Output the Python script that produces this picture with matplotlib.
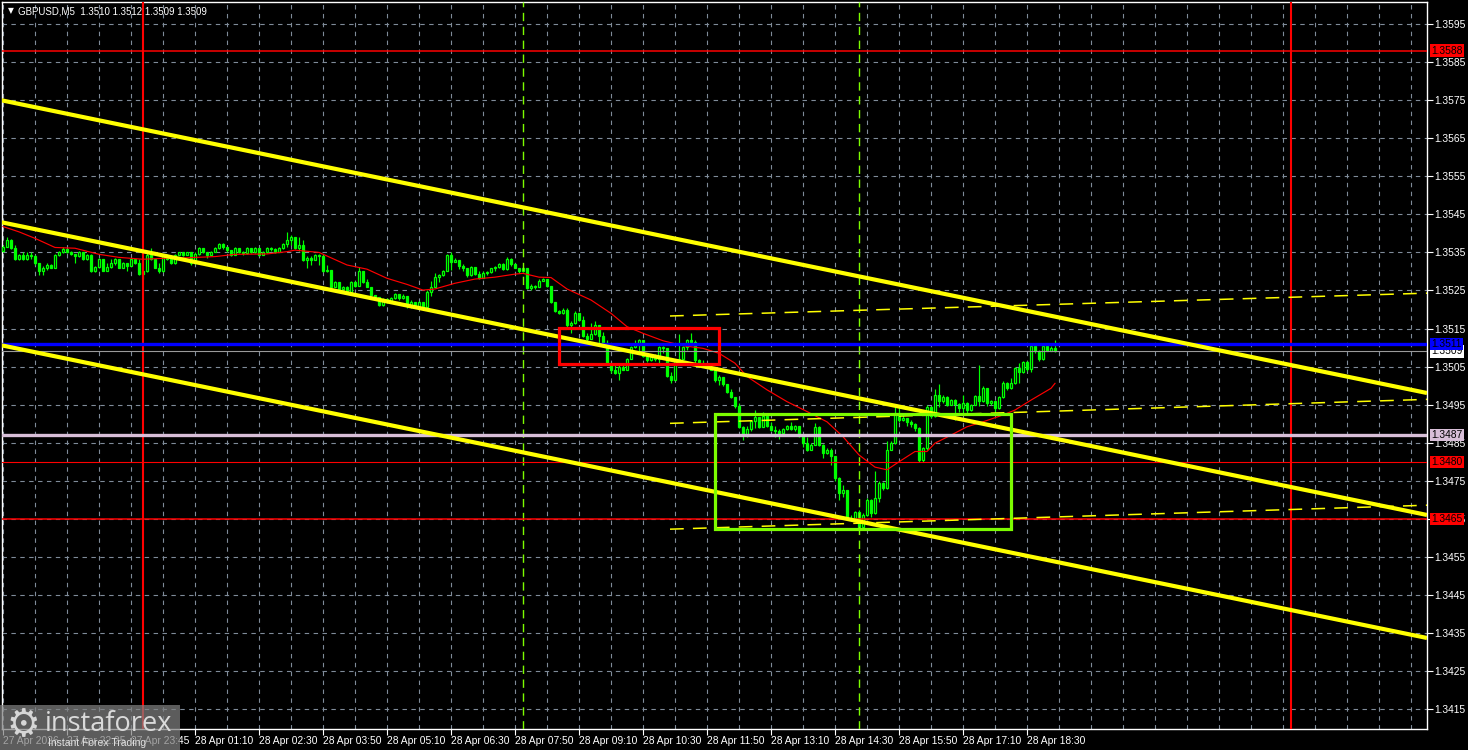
import matplotlib
matplotlib.use("Agg")
import matplotlib.pyplot as plt
import numpy as np
from matplotlib.patches import Rectangle

# ---------------- data ----------------
symbol = "GBPUSD,M5"
first_open = 1.35353

closes = [
    1.35365, 1.35383, 1.35361, 1.35332, 1.35343, 1.35332, 1.35343, 1.35340, 1.35321, 1.35300,
    1.35308, 1.35318, 1.35310, 1.35343, 1.35350, 1.35358, 1.35352, 1.35345, 1.35340, 1.35350,
    1.35332, 1.35343, 1.35300, 1.35312, 1.35332, 1.35302, 1.35311, 1.35321, 1.35332, 1.35310,
    1.35321, 1.35315, 1.35332, 1.35321, 1.35293, 1.35300, 1.35343, 1.35332, 1.35310, 1.35300,
    1.35343, 1.35333, 1.35321, 1.35343, 1.35350, 1.35343, 1.35350, 1.35321, 1.35345, 1.35361,
    1.35350, 1.35343, 1.35350, 1.35361, 1.35372, 1.35363, 1.35356, 1.35343, 1.35361, 1.35350,
    1.35348, 1.35361, 1.35350, 1.35361, 1.35343, 1.35350, 1.35361, 1.35360, 1.35350, 1.35361,
    1.35372, 1.35383, 1.35391, 1.35361, 1.35370, 1.35330, 1.35335, 1.35330, 1.35343, 1.35340,
    1.35300, 1.35305, 1.35260, 1.35272, 1.35253, 1.35260, 1.35247, 1.35273, 1.35262, 1.35300,
    1.35273, 1.35260, 1.35238, 1.35232, 1.35212, 1.35228, 1.35220, 1.35230, 1.35240, 1.35230,
    1.35235, 1.35208, 1.35220, 1.35209, 1.35219, 1.35206, 1.35245, 1.35260, 1.35285, 1.35290,
    1.35302, 1.35343, 1.35326, 1.35330, 1.35315, 1.35310, 1.35290, 1.35312, 1.35292, 1.35283,
    1.35295, 1.35298, 1.35308, 1.35312, 1.35320, 1.35306, 1.35334, 1.35320, 1.35310, 1.35302,
    1.35308, 1.35256, 1.35263, 1.35260, 1.35276, 1.35280, 1.35262, 1.35221, 1.35196, 1.35190,
    1.35200, 1.35159, 1.35165, 1.35190, 1.35173, 1.35130, 1.35122, 1.35135, 1.35160, 1.35130,
    1.35111, 1.35059, 1.35042, 1.35033, 1.35050, 1.35042, 1.35070, 1.35102, 1.35108, 1.35120,
    1.35078, 1.35067, 1.35076, 1.35069, 1.35102, 1.35098, 1.35025, 1.35015, 1.35065, 1.35070,
    1.35102, 1.35120, 1.35115, 1.35067, 1.35060, 1.35055, 1.35050, 1.35042, 1.35015, 1.35023,
    1.35005, 1.34983, 1.34970, 1.34946, 1.34892, 1.34870, 1.34885, 1.34906, 1.34918, 1.34892,
    1.34920, 1.34895, 1.34883, 1.34880, 1.34875, 1.34887, 1.34894, 1.34885, 1.34893, 1.34868,
    1.34850, 1.34831, 1.34845, 1.34892, 1.34845, 1.34822, 1.34831, 1.34816, 1.34757, 1.34717,
    1.34726, 1.34652, 1.34650, 1.34668, 1.34628, 1.34660, 1.34700, 1.34665, 1.34705, 1.34743,
    1.34730, 1.34831, 1.34849, 1.34927, 1.34910, 1.34915, 1.34904, 1.34900, 1.34890, 1.34805,
    1.34835, 1.34945, 1.34920, 1.34976, 1.34960, 1.34970, 1.34950, 1.34962, 1.34953, 1.34941,
    1.34955, 1.34935, 1.34950, 1.34973, 1.34960, 1.34995, 1.34955, 1.34960, 1.34940, 1.34970,
    1.35008, 1.34995, 1.35006, 1.35046, 1.35035, 1.35063, 1.35044, 1.35103, 1.35091, 1.35069,
    1.35103, 1.35092, 1.35100, 1.35090,
]

highs = [
    1.35370, 1.35391, 1.35385, 1.35370, 1.35346, 1.35350, 1.35350, 1.35350, 1.35343, 1.35323,
    1.35315, 1.35321, 1.35320, 1.35345, 1.35355, 1.35365, 1.35360, 1.35354, 1.35346, 1.35353,
    1.35352, 1.35346, 1.35345, 1.35315, 1.35335, 1.35333, 1.35321, 1.35332, 1.35335, 1.35333,
    1.35324, 1.35321, 1.35335, 1.35333, 1.35332, 1.35305, 1.35350, 1.35361, 1.35333, 1.35321,
    1.35345, 1.35345, 1.35343, 1.35345, 1.35352, 1.35352, 1.35352, 1.35350, 1.35350, 1.35365,
    1.35362, 1.35352, 1.35353, 1.35364, 1.35375, 1.35374, 1.35365, 1.35357, 1.35364, 1.35362,
    1.35353, 1.35364, 1.35362, 1.35363, 1.35362, 1.35353, 1.35364, 1.35363, 1.35362, 1.35364,
    1.35375, 1.35404, 1.35395, 1.35390, 1.35391, 1.35383, 1.35340, 1.35340, 1.35346, 1.35345,
    1.35343, 1.35317, 1.35303, 1.35275, 1.35272, 1.35263, 1.35262, 1.35276, 1.35274, 1.35312,
    1.35302, 1.35280, 1.35260, 1.35238, 1.35233, 1.35230, 1.35230, 1.35233, 1.35243, 1.35240,
    1.35240, 1.35236, 1.35224, 1.35221, 1.35222, 1.35220, 1.35250, 1.35275, 1.35295, 1.35293,
    1.35305, 1.35345, 1.35352, 1.35335, 1.35328, 1.35320, 1.35310, 1.35315, 1.35313, 1.35300,
    1.35300, 1.35302, 1.35310, 1.35315, 1.35323, 1.35321, 1.35338, 1.35335, 1.35322, 1.35310,
    1.35313, 1.35308, 1.35266, 1.35265, 1.35280, 1.35283, 1.35280, 1.35262, 1.35215, 1.35200,
    1.35205, 1.35205, 1.35170, 1.35195, 1.35192, 1.35183, 1.35138, 1.35165, 1.35170, 1.35143,
    1.35142, 1.35120, 1.35055, 1.35055, 1.35053, 1.35060, 1.35073, 1.35105, 1.35120, 1.35123,
    1.35120, 1.35079, 1.35080, 1.35083, 1.35105, 1.35103, 1.35098, 1.35035, 1.35070, 1.35135,
    1.35105, 1.35123, 1.35138, 1.35120, 1.35070, 1.35067, 1.35060, 1.35052, 1.35033, 1.35027,
    1.35024, 1.35000, 1.34990, 1.34960, 1.34954, 1.34895, 1.34893, 1.34910, 1.34936, 1.34918,
    1.34930, 1.34920, 1.34905, 1.34895, 1.34885, 1.34890, 1.34897, 1.34904, 1.34896, 1.34890,
    1.34870, 1.34865, 1.34849, 1.34902, 1.34893, 1.34846, 1.34835, 1.34836, 1.34815, 1.34760,
    1.34740, 1.34720, 1.34660, 1.34672, 1.34673, 1.34665, 1.34705, 1.34702, 1.34775, 1.34750,
    1.34746, 1.34855, 1.34855, 1.34945, 1.34943, 1.34925, 1.34916, 1.34910, 1.34902, 1.34891,
    1.34840, 1.34950, 1.34946, 1.34990, 1.35004, 1.34975, 1.34972, 1.34965, 1.34965, 1.34955,
    1.34976, 1.34956, 1.34953, 1.34976, 1.35054, 1.34998, 1.34995, 1.34963, 1.34960, 1.34973,
    1.35011, 1.35009, 1.35020, 1.35050, 1.35060, 1.35066, 1.35064, 1.35105, 1.35104, 1.35093,
    1.35105, 1.35104, 1.35105, 1.35120,
]

lows = [
    1.35350, 1.35363, 1.35358, 1.35330, 1.35330, 1.35330, 1.35330, 1.35332, 1.35318, 1.35291,
    1.35290, 1.35305, 1.35308, 1.35308, 1.35340, 1.35348, 1.35348, 1.35342, 1.35321, 1.35338,
    1.35330, 1.35330, 1.35298, 1.35298, 1.35308, 1.35300, 1.35308, 1.35309, 1.35318, 1.35308,
    1.35308, 1.35300, 1.35314, 1.35319, 1.35290, 1.35280, 1.35298, 1.35329, 1.35308, 1.35295,
    1.35299, 1.35330, 1.35319, 1.35320, 1.35342, 1.35340, 1.35342, 1.35318, 1.35320, 1.35343,
    1.35348, 1.35335, 1.35342, 1.35350, 1.35360, 1.35360, 1.35350, 1.35340, 1.35342, 1.35348,
    1.35342, 1.35347, 1.35348, 1.35349, 1.35340, 1.35342, 1.35349, 1.35355, 1.35348, 1.35350,
    1.35360, 1.35365, 1.35370, 1.35358, 1.35355, 1.35328, 1.35310, 1.35318, 1.35330, 1.35318,
    1.35298, 1.35298, 1.35258, 1.35260, 1.35250, 1.35250, 1.35245, 1.35246, 1.35260, 1.35261,
    1.35270, 1.35258, 1.35235, 1.35229, 1.35210, 1.35210, 1.35218, 1.35218, 1.35228, 1.35225,
    1.35228, 1.35205, 1.35205, 1.35205, 1.35208, 1.35202, 1.35203, 1.35235, 1.35258, 1.35272,
    1.35288, 1.35300, 1.35305, 1.35325, 1.35306, 1.35300, 1.35285, 1.35288, 1.35290, 1.35280,
    1.35282, 1.35290, 1.35297, 1.35300, 1.35308, 1.35303, 1.35305, 1.35315, 1.35308, 1.35297,
    1.35298, 1.35253, 1.35250, 1.35253, 1.35258, 1.35275, 1.35260, 1.35218, 1.35193, 1.35188,
    1.35188, 1.35155, 1.35138, 1.35163, 1.35170, 1.35128, 1.35118, 1.35125, 1.35133, 1.35111,
    1.35108, 1.35056, 1.35033, 1.35030, 1.35015, 1.35040, 1.35040, 1.35070, 1.35100, 1.35085,
    1.35075, 1.35063, 1.35065, 1.35065, 1.35055, 1.35085, 1.35022, 1.35006, 1.35014, 1.35065,
    1.35070, 1.35094, 1.35110, 1.35060, 1.35059, 1.35055, 1.35049, 1.35040, 1.35010, 1.35002,
    1.34998, 1.34980, 1.34968, 1.34942, 1.34890, 1.34858, 1.34865, 1.34880, 1.34890, 1.34890,
    1.34895, 1.34892, 1.34880, 1.34866, 1.34860, 1.34868, 1.34883, 1.34883, 1.34880, 1.34865,
    1.34840, 1.34828, 1.34830, 1.34843, 1.34842, 1.34810, 1.34820, 1.34791, 1.34750, 1.34700,
    1.34708, 1.34648, 1.34645, 1.34649, 1.34623, 1.34620, 1.34658, 1.34656, 1.34662, 1.34695,
    1.34725, 1.34728, 1.34830, 1.34848, 1.34905, 1.34908, 1.34895, 1.34892, 1.34880, 1.34800,
    1.34800, 1.34832, 1.34915, 1.34918, 1.34945, 1.34955, 1.34947, 1.34948, 1.34910, 1.34930,
    1.34927, 1.34925, 1.34933, 1.34948, 1.34946, 1.34958, 1.34946, 1.34950, 1.34924, 1.34938,
    1.34968, 1.34989, 1.34992, 1.35004, 1.35008, 1.35034, 1.35039, 1.35036, 1.35086, 1.35066,
    1.35067, 1.35090, 1.35090, 1.35089,
]

# moving average (red thin line), read at sample bars
ma_bars = [0, 4, 8, 13, 18, 24, 29, 35, 41, 46, 53, 58, 66, 71, 73, 79, 86, 91, 96, 101,
           105, 108, 113, 118, 123, 128, 130, 134, 137, 141, 147, 152, 156, 160, 165, 170, 175, 179, 183, 186,
           191, 196, 201, 206, 210, 214, 218, 221, 224, 228, 231, 233, 237, 241, 245, 250, 253, 257, 262, 263]
ma_vals = [1.35418, 1.35404, 1.35387, 1.35363, 1.35361, 1.35345, 1.35337, 1.35332, 1.35335, 1.35336,
           1.35339, 1.35345, 1.35346, 1.35352, 1.35356, 1.35350, 1.35317, 1.35306, 1.35282, 1.35266,
           1.35251, 1.35254, 1.35269, 1.35280, 1.35285, 1.35293, 1.35295, 1.35285, 1.35284, 1.35254,
           1.35225, 1.35190, 1.35155, 1.351375, 1.35118, 1.35105, 1.35098, 1.35085, 1.35059, 1.35024,
           1.34989, 1.34958, 1.34932, 1.34905, 1.34866, 1.34818, 1.34786, 1.34779, 1.34800, 1.34827,
           1.34827, 1.34849, 1.34870, 1.34892, 1.34905, 1.34923, 1.34936, 1.34962, 1.34993, 1.35006]

time_labels = ["27 Apr 2026", "27 Apr 22:25", "27 Apr 23:45", "28 Apr 01:10", "28 Apr 02:30",
               "28 Apr 03:50", "28 Apr 05:10", "28 Apr 06:30", "28 Apr 07:50", "28 Apr 09:10",
               "28 Apr 10:30", "28 Apr 11:50", "28 Apr 13:10", "28 Apr 14:30", "28 Apr 15:50",
               "28 Apr 17:10", "28 Apr 18:30"]
label_bars = [0, 16, 32, 48, 64, 80, 96, 112, 128, 144, 160, 176, 192, 208, 224, 240, 256]
grid_bars = [8, 24, 40, 56, 72, 88, 104, 120, 136, 152, 168, 184, 200, 216, 232, 248, 264,
             272, 280, 288, 296, 304, 312, 320, 328, 336, 344, 352]

price_ticks = [1.3415, 1.3425, 1.3435, 1.3445, 1.3455, 1.3465, 1.3475, 1.3485, 1.3495, 1.3505,
               1.3515, 1.3525, 1.3535, 1.3545, 1.3555, 1.3565, 1.3575, 1.3585, 1.3595]

# horizontal levels
level_prices = [1.3588, 1.3511, 1.3487, 1.3480, 1.3465]
level_colors = ["#FF0000", "#0000FF", "#D8BFD8", "#FF0000", "#FF0000"]
level_widths = [1.1, 2.4, 2.4, 0.8, 1.1]

# trend channel (thick yellow)
channel_x = [-0.75, 356.0]
channel_upper = [1.357504, 1.349807]
channel_mid = [1.354300, 1.346603]
channel_low = [1.351068, 1.343372]

# thin dashed yellow lines
dash_x = [166.75, 356.0]
dash_1 = [1.35183, 1.35243]
dash_2 = [1.34901, 1.34964]
dash_3 = [1.34623, 1.34686]

# boxes (bar_from, bar_to, price_low, price_high)
red_box = [139.0, 179.0, 1.35057, 1.35151]
green_box = [178.0, 252.1, 1.34624, 1.34926]

day_separators = [35, 322]
signal_bars = [130, 214]

# ---------------- drawing ----------------
W, H = 1468, 750
LIME = "#00FF00"
FONT = ["Liberation Sans", "DejaVu Sans"]
plt.rcParams["font.family"] = FONT

fig = plt.figure(figsize=(W / 100, H / 100), dpi=100)
fig.patch.set_facecolor("black")
ax = fig.add_axes([2 / W, 1 - 729 / H, 1425 / W, 727 / H])
ax.set_facecolor("black")
ax.set_xlim(-0.25, 356.0)
ax.set_ylim(1.340981, 1.360078)

for s in ax.spines.values():
    s.set_color("white")
    s.set_linewidth(1.0)

# axes ticks
ax.yaxis.tick_right()
ax.set_yticks(price_ticks)
ax.set_yticklabels([f"{p:.4f}" for p in price_ticks])
ax.tick_params(axis="y", colors="white", length=4, width=0.8, pad=1.5, labelsize=7.4)
ax.set_xticks(label_bars)
ax.set_xticklabels(time_labels, ha="left")
ax.set_xticks(grid_bars, minor=True)
ax.tick_params(axis="x", which="major", colors="white", length=4, width=0.8, pad=1, labelsize=7.4)
ax.tick_params(axis="x", which="minor", length=0)
gstyle = dict(color="#7f8b99", linestyle=(0, (4, 4)), linewidth=0.8)
ax.grid(True, which="both", axis="x", **gstyle)
ax.grid(True, which="major", axis="y", **gstyle)
ax.set_axisbelow(True)

# candles
c = np.array(closes)
hi = np.array(highs)
lo = np.array(lows)
n = min(len(c), len(hi), len(lo))
c, hi, lo = c[:n], hi[:n], lo[:n]
o = np.concatenate([[first_open], c[:-1]])
hi = np.maximum(hi, np.maximum(o, c))
lo = np.minimum(lo, np.minimum(o, c))
x = np.arange(n)
bull = c >= o
ax.vlines(x, lo, hi, color=LIME, linewidth=0.85, zorder=3)
ax.bar(x, c - o, bottom=o, width=0.55, color=np.where(bull, "black", LIME),
       edgecolor=LIME, linewidth=0.9, zorder=4)

# moving average
ax.plot(ma_bars, ma_vals, color="#FF0000", linewidth=0.85, zorder=5)

# vertical lines
for b in day_separators:
    ax.axvline(b, color="#FF0000", linewidth=1.5, zorder=5)
for b in signal_bars:
    ax.axvline(b, color="#7CFC00", linewidth=1.0, linestyle=(0, (6, 4)), zorder=5)

# horizontal levels
for p, col, lw in zip(level_prices, level_colors, level_widths):
    ax.axhline(p, color=col, linewidth=lw, zorder=6)
ax.axhline(c[-1], color="#9a9a9a", linewidth=0.8, zorder=6)

# channel lines
for ys in (channel_upper, channel_mid, channel_low):
    ax.plot(channel_x, ys, color="#FFFF00", linewidth=3.0, zorder=7, solid_capstyle="butt")
for ys in (dash_1, dash_2, dash_3):
    ax.plot(dash_x, ys, color="#FFFF00", linewidth=1.1, dashes=(9, 6), zorder=7)

# rectangles
for box, col in ((red_box, "#FF0000"), (green_box, "#7CFC00")):
    x0, x1, p0, p1 = box
    ax.add_patch(Rectangle((x0, p0), x1 - x0, p1 - p0, fill=False, edgecolor=col,
                           linewidth=2.3, zorder=8))

# price tags on the right axis (current price tag drawn under the blue level tag)
tags = [(float(c[-1]), "#FFFFFF", 19), (1.3588, "#FF0000", 20), (1.3511, "#0000FF", 21),
        (1.3487, "#D8BFD8", 20), (1.3480, "#FF0000", 20), (1.3465, "#FF0000", 20)]
tr = ax.get_yaxis_transform()
for p, fc, z in tags:
    ax.text(1.0029, p, f"{p:.4f}", transform=tr, ha="left", va="center", fontsize=7.4,
            color="black", clip_on=False, zorder=z,
            bbox=dict(boxstyle="square,pad=0.12", fc=fc, ec="none"))

# title
title = f"{symbol}  {o[-1]:.4f} {hi[-1]:.4f} {lo[-1]:.4f} {c[-1]:.4f}"
fig.text(8 / W, 1 - 11 / H, "\u25BC", color="white", fontsize=5.5, va="center", ha="left",
         family=["DejaVu Sans"])
fig.text(18 / W, 1 - 11 / H, title, color="white", fontsize=7.0, va="center", ha="left")

# watermark
fig.add_artist(Rectangle((0, 0), 180 / W, 45 / H, transform=fig.transFigure,
                         facecolor="#808080", alpha=0.72, edgecolor="none", zorder=30))
fig.text(23 / W, 24 / H, "\u2699", color="#d6d6d6", fontsize=27, ha="center", va="center",
         family=["DejaVu Sans"], zorder=31)
fig.text(45 / W, 26 / H, "instaforex", color="#dadada", fontsize=19.5, ha="left", va="center",
         family=["Open Sans", "DejaVu Sans"], zorder=31)
fig.text(48 / W, 7 / H, "Instant Forex Trading", color="#e0e0e0", fontsize=7.5, ha="left",
         va="center", zorder=31)

fig.savefig("out.png", dpi=100, facecolor="black")
